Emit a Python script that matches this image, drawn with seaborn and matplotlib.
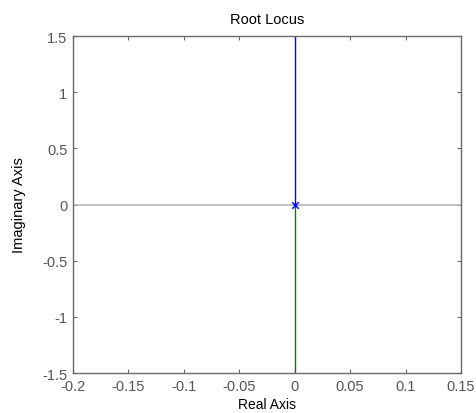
import matplotlib
matplotlib.use("Agg")
import matplotlib.pyplot as plt
import seaborn as sns
import pandas as pd

# Data
branch_upper_real = [0.0, 0.0]
branch_upper_imag = [0.0, 1.5]
branch_lower_real = [0.0, 0.0]
branch_lower_imag = [0.0, -1.5]
pole_real = [0.0]
pole_imag = [0.0]
xticks = [-0.2, -0.15, -0.1, -0.05, 0, 0.05, 0.1, 0.15]
xticklabels = ["-0.2", "-0.15", "-0.1", "-0.05", "0", "0.05", "0.1", "0.15"]
yticks = [-1.5, -1, -0.5, 0, 0.5, 1, 1.5]
yticklabels = ["-1.5", "-1", "-0.5", "0", "0.5", "1", "1.5"]

sns.set_theme(style="white")
plt.rcParams['font.family'] = ['Liberation Sans', 'DejaVu Sans']

fig = plt.figure(figsize=(4.76, 4.14), dpi=100)
ax = fig.add_axes([73/476, 1-374/414, (461-73)/476, (374-37)/414])

ax.axhline(0, color="#b8b8b8", lw=1.2, zorder=1)

up = pd.DataFrame({"re": branch_upper_real, "im": branch_upper_imag})
lo = pd.DataFrame({"re": branch_lower_real, "im": branch_lower_imag})
sns.lineplot(data=up, x="re", y="im", sort=False, estimator=None, color="#0000ff", lw=1.0, ax=ax, zorder=2)
sns.lineplot(data=lo, x="re", y="im", sort=False, estimator=None, color="#008000", lw=1.0, ax=ax, zorder=2)
pole = pd.DataFrame({"re": pole_real, "im": pole_imag})
sns.scatterplot(data=pole, x="re", y="im", marker="x", color="#0000ff", s=22, linewidth=1.0, ax=ax, zorder=3)

ax.set_xlim(-0.2, 0.15)
ax.set_ylim(-1.5, 1.5)
ax.set_xticks(xticks)
ax.set_xticklabels(xticklabels)
ax.set_yticks(yticks)
ax.set_yticklabels(yticklabels)

for s in ax.spines.values():
    s.set_color("#6a6a6a")
    s.set_linewidth(1.0)
ax.tick_params(direction="in", length=3, width=0.8, color="#6a6a6a",
               labelcolor="#555555", labelsize=10.5, top=True, right=True,
               bottom=True, left=True, pad=4)

ax.set_title("Root Locus", fontsize=10.5, color="#000000", pad=9)
ax.set_xlabel("Real Axis", fontsize=10, color="#000000", labelpad=3)
ax.set_ylabel("Imaginary Axis", fontsize=10.5, color="#000000", labelpad=12)

fig.savefig("out.png", dpi=100)
